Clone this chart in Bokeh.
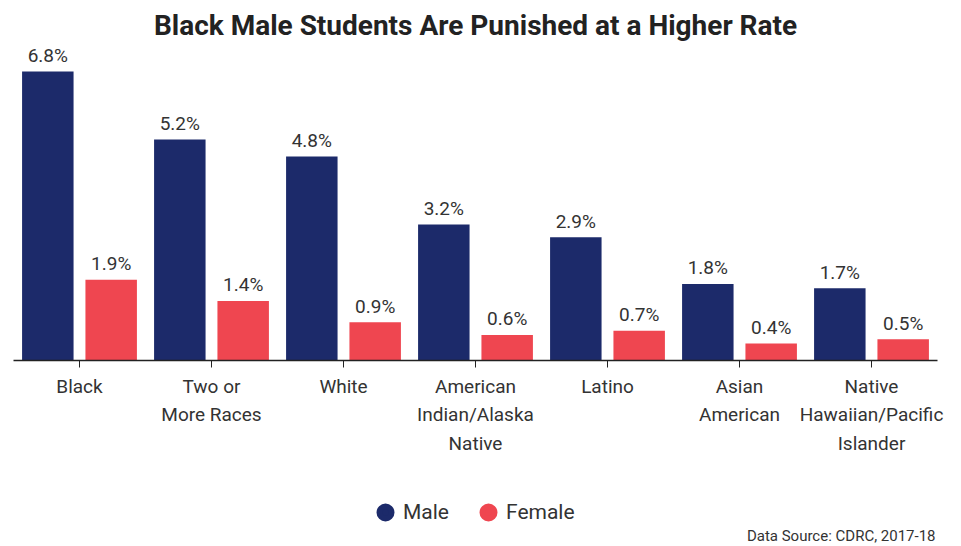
from bokeh.plotting import figure
from bokeh.layouts import column
from bokeh.models import ColumnDataSource, FactorRange, Legend, LegendItem, Label, Range1d
from bokeh.transform import dodge
from bokeh.core.properties import value
from bokeh.embed import file_html
from bokeh.resources import INLINE

categories = ["Black", "Two or\nMore Races", "White", "American\nIndian/Alaska\nNative",
              "Latino", "Asian\nAmerican", "Native\nHawaiian/Pacific\nIslander"]
male = [6.8, 5.2, 4.8, 3.2, 2.9, 1.8, 1.7]
female = [1.9, 1.4, 0.9, 0.6, 0.7, 0.4, 0.5]
series_names = ["Male", "Female"]
source_note = "Data Source: CDRC, 2017-18"

MALE_C = "#1c2a6a"
FEMALE_C = "#ef4650"
FONT = "Roboto"

src = ColumnDataSource(dict(
    cat=categories, male=male, female=female,
    male_lbl=[f"{v:.1f}%" for v in male],
    female_lbl=[f"{v:.1f}%" for v in female],
))

p = figure(x_range=FactorRange(*categories, range_padding=0), y_range=Range1d(0, 7.41),
           frame_width=924, frame_height=315, output_backend="svg", toolbar_location=None,
           min_border_left=13, min_border_right=8, min_border_top=45, min_border_bottom=95)

p.title.text = "Black Male Students Are Punished at a Higher Rate"
p.title.align = "center"
p.title.text_font = FONT
p.title.text_font_size = "28px"
p.title.text_font_style = "bold"
p.title.text_color = "#222222"
p.title.standoff = 8

w = 0.39
p.vbar(x=dodge("cat", -0.24, range=p.x_range), top="male", width=w, source=src,
       fill_color=MALE_C, line_color=None)
p.vbar(x=dodge("cat", 0.24, range=p.x_range), top="female", width=w, source=src,
       fill_color=FEMALE_C, line_color=None)

p.text(x=dodge("cat", -0.24, range=p.x_range), y="male", text="male_lbl", source=src,
       text_align="center", text_baseline="alphabetic", y_offset=-16,
       text_font=value(FONT), text_font_size="19px", text_color="#333333")
p.text(x=dodge("cat", 0.24, range=p.x_range), y="female", text="female_lbl", source=src,
       text_align="center", text_baseline="alphabetic", y_offset=-16,
       text_font=value(FONT), text_font_size="19px", text_color="#333333")

p.yaxis.visible = False
p.xgrid.visible = False
p.ygrid.visible = False
p.outline_line_color = None

xa = p.xaxis[0]
xa.axis_line_color = "#222222"
xa.axis_line_width = 1.5
xa.major_tick_line_color = "#222222"
xa.major_tick_out = 7
xa.major_tick_in = 0
xa.minor_tick_line_color = None
xa.major_label_text_font = FONT
xa.major_label_text_font_size = "19px"
xa.major_label_text_color = "#333333"
xa.major_label_text_line_height = 1.25
xa.major_label_standoff = 7
xa.major_label_orientation = "horizontal"

# Legend and source note in a strip below the chart
p2 = figure(x_range=Range1d(0, 945), y_range=Range1d(0, 86), width=945, height=86,
            output_backend="svg", toolbar_location=None, min_border=0)
p2.axis.visible = False
p2.grid.visible = False
p2.outline_line_color = None

mdot = p2.scatter(x=[-100], y=[-100], size=18, fill_color=MALE_C, line_color=MALE_C, line_width=6)
fdot = p2.scatter(x=[-100], y=[-100], size=18, fill_color=FEMALE_C, line_color=FEMALE_C, line_width=6)
legend = Legend(items=[LegendItem(label=series_names[0], renderers=[mdot]),
                       LegendItem(label=series_names[1], renderers=[fdot])],
                orientation="horizontal", location=(357, 17))
legend.label_text_font = FONT
legend.label_text_font_size = "21px"
legend.label_text_color = "#333333"
legend.border_line_color = None
legend.background_fill_alpha = 0
legend.spacing = 24
legend.glyph_width = 30
legend.glyph_height = 30
legend.label_standoff = 3
legend.padding = 5
legend.margin = 0
p2.add_layout(legend, "center")

note = Label(x=943, y=9, text=source_note, text_align="right", text_baseline="middle",
             text_font=FONT, text_font_size="15px", text_color="#333333")
p2.add_layout(note)

layout = column(p, p2, spacing=0)
open("out.html", "w").write(file_html(layout, INLINE))
